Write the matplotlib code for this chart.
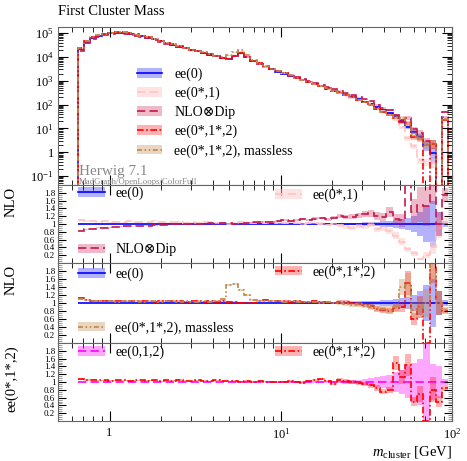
import numpy as np
import matplotlib.pyplot as plt
from matplotlib.patches import Patch
from matplotlib.lines import Line2D
from matplotlib.legend import Legend
from matplotlib.ticker import FixedLocator, MultipleLocator, LogLocator, NullFormatter

plt.rcParams['font.family'] = ['Liberation Serif', 'DejaVu Serif']
plt.rcParams['mathtext.fontset'] = 'custom'
plt.rcParams['mathtext.rm'] = 'Liberation Serif'
plt.rcParams['mathtext.it'] = 'Liberation Serif:italic'

# 60 log bins, 0.65 .. 95 GeV
edges = np.logspace(np.log10(0.65), np.log10(95), 61)

# ee(0) histogram
base = [2.1e4, 4.3e4, 6.3e4, 7.6e4, 8.9e4, 1.0e5, 1.05e5, 1.02e5, 9.3e4, 8.3e4,
        7.2e4, 6.3e4, 5.4e4, 4.5e4, 3.7e4, 3.2e4, 2.7e4, 2.3e4, 1.95e4, 1.7e4,
        1.48e4, 1.26e4, 1.05e4, 8.9e3, 7.9e3, 1.05e4, 1.5e4, 1.0e4, 6.6e3, 5.0e3,
        3.8e3, 3.0e3, 2.4e3, 2.0e3, 1.6e3, 1.3e3, 1.05e3, 850, 710, 575,
        470, 380, 316, 257, 209, 166, 132, 105, 79, 60,
        45, 32, 20, 11, 7, 4.5, 2.0, 0.9, 0.01, 29]

# ratios to ee(0)
r_ee01 = [1.1, 1.08, 1.07, 1.06, 1.07, 1.05, 1.06, 1.05, 1.07, 1.05,
          1.06, 1.05, 1.08, 1.06, 1.05, 1.04, 1.05, 1.03, 1.04, 1.03,
          1.05, 1.04, 1.03, 1.02, 1.01, 1.03, 1.04, 1.03, 1.02, 1.04,
          1.03, 1.05, 1.03, 1.02, 1.04, 1.02, 1.0, 1.02, 1.03, 1.01,
          0.98, 1.0, 0.97, 0.92, 0.9, 0.95, 0.93, 0.98, 0.86, 0.9,
          0.82, 0.7, 0.55, 0.35, 0.25, 0.1, 0.2, 0.4, 0.9, 1.05]
r_dip = [0.83, 0.86, 0.88, 0.9, 0.91, 0.92, 0.93, 0.94, 0.94, 0.95,
         0.96, 0.96, 0.97, 0.98, 0.98, 0.99, 0.99, 1.0, 1.0, 1.01,
         1.0, 1.02, 1.01, 1.03, 1.02, 1.0, 1.01, 1.03, 1.04, 1.05,
         1.06, 1.05, 1.08, 1.1, 1.08, 1.1, 1.12, 1.1, 1.14, 1.15,
         1.12, 1.16, 1.2, 1.18, 1.19, 1.22, 1.25, 1.28, 1.2, 1.17,
         1.3, 1.12, 1.1, 2.5, 1.32, 1.49, 1.45, 2.5, 1.0, 1.75]
r_ee012 = [1.12, 1.08, 1.06, 1.05, 1.06, 1.05, 1.04, 1.05, 1.04, 1.06,
           1.05, 1.04, 1.03, 1.05, 1.06, 1.04, 1.05, 1.03, 1.04, 1.05,
           1.03, 1.04, 1.02, 1.05, 1.03, 1.02, 1.0, 1.01, 1.0, 1.06,
           1.08, 1.06, 1.04, 1.05, 1.03, 1.04, 1.02, 1.03, 1.04, 1.02,
           1.03, 1.0, 1.03, 1.02, 1.0, 0.98, 0.95, 0.92, 0.85, 0.82,
           0.8, 0.87, 0.9, 1.5, 0.6, 0.9, 0.0, 2.5, 1.0, 0.8]
r_massless = [1.1, 1.07, 1.05, 1.05, 1.04, 1.05, 1.03, 1.04, 1.05, 1.04,
              1.03, 1.05, 1.04, 1.03, 1.04, 1.05, 1.03, 1.04, 1.03, 1.02,
              1.04, 1.03, 1.05, 1.1, 1.45, 1.47, 1.33, 1.2, 1.08, 1.05,
              1.06, 1.05, 1.04, 1.03, 1.04, 1.02, 1.03, 1.02, 1.03, 1.01,
              1.02, 1.0, 1.0, 0.98, 0.96, 0.97, 0.93, 0.9, 0.88, 0.85,
              0.83, 0.9, 1.4, 1.45, 0.82, 0.88, 1.0, 2.5, 1.0, 0.82]
# ee(0*,1*,2) over ee(0,1,2)
r3_ee012 = [1.08, 1.05, 1.06, 1.04, 1.05, 1.03, 1.04, 1.05, 1.03, 1.04,
            1.05, 1.03, 1.04, 1.02, 1.04, 1.03, 1.05, 1.03, 1.02, 1.04,
            1.03, 1.02, 1.04, 1.03, 1.02, 1.03, 1.01, 1.02, 1.0, 1.02,
            1.01, 1.0, 0.99, 1.0, 1.02, 1.0, 0.98, 1.03, 1.06, 1.08,
            1.02, 0.96, 1.05, 1.02, 1.0, 0.97, 0.95, 0.92, 0.85, 0.75,
            0.8, 1.48, 1.13, 1.43, 0.5, 0.7, 0.0, 0.8, 0.5, 0.85]

# relative uncertainties
err_lo = [0.01, 0.006, 0.005, 0.005, 0.005, 0.005, 0.005, 0.005, 0.005, 0.005,
          0.005, 0.005, 0.005, 0.005, 0.005, 0.006, 0.006, 0.006, 0.006, 0.007,
          0.007, 0.007, 0.008, 0.008, 0.008, 0.008, 0.008, 0.008, 0.009, 0.009,
          0.01, 0.01, 0.01, 0.011, 0.012, 0.012, 0.013, 0.014, 0.015, 0.016,
          0.017, 0.02, 0.02, 0.022, 0.025, 0.03, 0.04, 0.05, 0.06, 0.07,
          0.08, 0.1, 0.12, 0.15, 0.2, 0.3, 0.45, 0.6, 0.3, 0.08]
err_nlo = [0.02, 0.015, 0.012, 0.012, 0.012, 0.012, 0.012, 0.012, 0.012, 0.012,
           0.012, 0.012, 0.012, 0.013, 0.013, 0.013, 0.014, 0.014, 0.015, 0.015,
           0.016, 0.016, 0.017, 0.018, 0.018, 0.018, 0.018, 0.019, 0.02, 0.02,
           0.02, 0.021, 0.022, 0.023, 0.024, 0.025, 0.026, 0.027, 0.028, 0.03,
           0.03, 0.035, 0.04, 0.05, 0.05, 0.06, 0.06, 0.07, 0.08, 0.09,
           0.1, 0.12, 0.15, 0.2, 0.25, 0.3, 0.35, 0.4, 0.3, 0.1]
err3 = [0.01, 0.008, 0.007, 0.007, 0.007, 0.007, 0.007, 0.007, 0.007, 0.007,
        0.007, 0.007, 0.007, 0.008, 0.008, 0.008, 0.008, 0.008, 0.009, 0.009,
        0.009, 0.01, 0.01, 0.01, 0.01, 0.01, 0.01, 0.011, 0.011, 0.012,
        0.012, 0.013, 0.013, 0.014, 0.015, 0.015, 0.016, 0.017, 0.018, 0.019,
        0.02, 0.03, 0.03, 0.04, 0.05, 0.06, 0.08, 0.1, 0.12, 0.15,
        0.18, 0.25, 0.3, 0.4, 0.5, 0.6, 1.0, 0.45, 0.4, 0.08]

labels = ['ee(0)', 'ee(0*,1)', 'NLO\u2297Dip', 'ee(0*,1*,2)', 'ee(0*,1*,2), massless', 'ee(0,1,2)']

sty = {
    'ee(0)': dict(color='#0000ff', ls='-', band='#0000ff', alpha=0.3),
    'ee(0*,1)': dict(color='#ffc4c4', ls=(0, (5, 2.5)), band='#ffc8c8', alpha=0.5),
    'NLO\u2297Dip': dict(color='#c8184e', ls=(0, (5, 2.5)), band='#c8184e', alpha=0.3),
    'ee(0*,1*,2)': dict(color='#ff0000', ls=(0, (4, 1.5, 1, 1.5)), band='#ff0000', alpha=0.3),
    'ee(0*,1*,2), massless': dict(color='#c0884c', ls=(0, (3, 1.5, 1, 1.5, 1, 1.5)), band='#c0884c', alpha=0.35),
    'ee(0,1,2)': dict(color='#ff00ff', ls=(0, (5, 2.5)), band='#ff00ff', alpha=0.35),
}


def draw(ax, vals, err, name, baseline=None):
    s = sty[name]
    vals = np.asarray(vals, dtype=float)
    err = np.asarray(err)
    ax.stairs(vals * (1 + err), edges, baseline=vals * (1 - err), fill=True,
              color=s['band'], alpha=s['alpha'], lw=0)
    ax.stairs(vals, edges, baseline=baseline, color=s['color'], ls=s['ls'], lw=1.2)


def handle(name):
    s = sty[name]
    return (Patch(facecolor=s['band'], alpha=s['alpha'], edgecolor='none'),
            Line2D([], [], color=s['color'], ls=s['ls'], lw=1.2))


def tag(ax, name, x, y, hl=2.0):
    leg = Legend(ax, [handle(name)], [name], loc='center left', bbox_to_anchor=(x, y),
                 frameon=False, fontsize=10, handlelength=hl, handletextpad=0.7,
                 borderpad=0, borderaxespad=0)
    ax.add_artist(leg)


def style_axes(ax):
    for sp in ax.spines.values():
        sp.set_color('#666666')
        sp.set_linewidth(0.8)
    ax.set_xscale('log')
    ax.set_xlim(0.5, 100)
    ax.tick_params(which='both', direction='in', top=True, right=True, labelsize=9)
    ax.tick_params(which='major', length=7)
    ax.tick_params(which='minor', length=3.5)
    ax.xaxis.set_major_locator(FixedLocator([1, 10, 100]))
    ax.xaxis.set_minor_locator(LogLocator(subs=np.arange(2, 10)))
    ax.xaxis.set_minor_formatter(NullFormatter())


def style_ratio(ax):
    style_axes(ax)
    ax.set_ylim(0, 2)
    ticks = [0.2, 0.4, 0.6, 0.8, 1.0, 1.2, 1.4, 1.6, 1.8]
    ax.yaxis.set_major_locator(FixedLocator(ticks))
    ax.set_yticklabels(['%g' % t for t in ticks])
    ax.yaxis.set_minor_locator(MultipleLocator(0.05))
    ax.tick_params(axis='y', which='major', length=6, pad=2, labelsize=6.5)
    ax.tick_params(axis='y', which='minor', length=3, color='#888888')


fig = plt.figure(figsize=(4.67, 4.61), dpi=100)
L, W = 58 / 467, 394 / 467
ax0 = fig.add_axes([L, 276 / 461, W, 158 / 461])
ax1 = fig.add_axes([L, 198 / 461, W, 78 / 461])
ax2 = fig.add_axes([L, 118 / 461, W, 80 / 461])
ax3 = fig.add_axes([L, 40 / 461, W, 78 / 461])

# main panel
b = np.asarray(base)
draw(ax0, b, err_lo, 'ee(0)', baseline=1e-3)
draw(ax0, b * np.asarray(r_ee01), err_nlo, 'ee(0*,1)', baseline=1e-3)
draw(ax0, b * np.asarray(r_dip), err_nlo, 'NLO\u2297Dip', baseline=1e-3)
draw(ax0, b * np.asarray(r_ee012), err_nlo, 'ee(0*,1*,2)', baseline=1e-3)
draw(ax0, b * np.asarray(r_massless), err_nlo, 'ee(0*,1*,2), massless', baseline=1e-3)
style_axes(ax0)
ax0.set_yscale('log')
ax0.set_ylim(0.042, 1.8e5)
yt = [0.1, 1, 10, 100, 1e3, 1e4, 1e5]
ax0.yaxis.set_major_locator(FixedLocator(yt))
ax0.set_yticklabels(['$10^{-1}$', '1', '$10^{1}$', '$10^{2}$', '$10^{3}$', '$10^{4}$', '$10^{5}$'])
ax0.yaxis.set_minor_locator(LogLocator(subs=np.arange(2, 10), numticks=20))
ax0.yaxis.set_minor_formatter(NullFormatter())
ax0.tick_params(axis='y', which='major', pad=3)
ax0.tick_params(axis='x', labelbottom=False)
names5 = labels[:5]
ax0.legend([handle(n) for n in names5], names5, loc='upper left', bbox_to_anchor=(0.2, 0.745),
           frameon=False, fontsize=10, handlelength=1.8, handletextpad=0.9,
           labelspacing=0.42, borderpad=0, borderaxespad=0)
ax0.text(0.053, 0.062, 'Herwig 7.1', transform=ax0.transAxes, fontsize=11, color='#888888')
ax0.text(0.053, 0.004, 'MadGraph/OpenLoops/ColorFull', transform=ax0.transAxes, fontsize=6.3,
         color='#888888')

ones = np.ones(len(base))

# ratio panel 1
draw(ax1, ones, err_lo, 'ee(0)')
draw(ax1, r_ee01, err_nlo, 'ee(0*,1)')
draw(ax1, r_dip, err_nlo, 'NLO\u2297Dip')
style_ratio(ax1)
ax1.tick_params(axis='x', labelbottom=False)
tag(ax1, 'ee(0)', 0.05, 0.89)
tag(ax1, 'ee(0*,1)', 0.55, 0.87)
tag(ax1, 'NLO\u2297Dip', 0.05, 0.17)

# ratio panel 2
draw(ax2, ones, err_lo, 'ee(0)')
draw(ax2, r_ee012, err_nlo, 'ee(0*,1*,2)')
draw(ax2, r_massless, err_nlo, 'ee(0*,1*,2), massless')
style_ratio(ax2)
ax2.tick_params(axis='x', labelbottom=False)
tag(ax2, 'ee(0)', 0.05, 0.86)
tag(ax2, 'ee(0*,1*,2)', 0.55, 0.89)
tag(ax2, 'ee(0*,1*,2), massless', 0.05, 0.19)

# ratio panel 3
draw(ax3, ones, err3, 'ee(0,1,2)')
draw(ax3, r3_ee012, err_nlo, 'ee(0*,1*,2)')
style_ratio(ax3)
ax3.set_xticklabels(['1', '$10^{1}$', '$10^{2}$'])
ax3.tick_params(axis='x', which='major', pad=4)
tag(ax3, 'ee(0,1,2)', 0.05, 0.88)
tag(ax3, 'ee(0*,1*,2)', 0.55, 0.88)

fig.text(58 / 467, (461 - 15) / 461, 'First Cluster Mass', fontsize=10.5, va='baseline')
fig.text(452 / 467, (461 - 455) / 461, r'$m_{\mathrm{cluster}}$ [GeV]', fontsize=10.5,
         ha='right', va='baseline')
fig.text(0.024, (461 - 187) / 461, 'NLO', rotation=90, ha='center', va='top', fontsize=10.5)
fig.text(0.024, (461 - 265) / 461, 'NLO', rotation=90, ha='center', va='top', fontsize=10.5)
fig.text(0.024, (461 - 345) / 461, 'ee(0*,1*,2)', rotation=90, ha='center', va='top', fontsize=10.5)

fig.savefig('out.png', dpi=100)
